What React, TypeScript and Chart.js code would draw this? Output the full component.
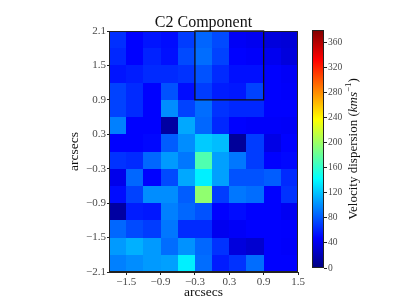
import React, { useEffect, useRef } from "react";
import { Chart, registerables } from "chart.js";

Chart.register(...registerables);

// ---- data ----
const xCenters = [-1.65, -1.35, -1.05, -0.75, -0.45, -0.15, 0.15, 0.45, 0.75, 1.05, 1.35];
const yCenters = [1.95, 1.65, 1.35, 1.05, 0.75, 0.45, 0.15, -0.15, -0.45, -0.75, -1.05, -1.35, -1.65, -1.95];
const cellSize = 0.3;

// velocity dispersion (km/s), rows from top (y=2.1) to bottom (y=-2.1)
const sigmaRows: number[][] = [
  [65, 48, 55, 52, 70, 85, 75, 44, 42, 35, 33],
  [62, 48, 60, 53, 75, 88, 72, 48, 46, 42, 35],
  [55, 58, 63, 63, 66, 78, 63, 53, 53, 48, 45],
  [72, 63, 48, 78, 52, 70, 58, 56, 72, 48, 46],
  [72, 63, 48, 100, 72, 88, 66, 62, 62, 48, 48],
  [95, 48, 48, 13, 110, 86, 62, 48, 46, 46, 45],
  [48, 48, 50, 82, 100, 123, 118, 10, 70, 38, 48],
  [66, 63, 86, 105, 92, 172, 107, 92, 70, 48, 50],
  [40, 86, 48, 75, 110, 137, 107, 78, 78, 82, 63],
  [52, 72, 100, 100, 82, 196, 70, 92, 88, 48, 66],
  [13, 58, 56, 95, 86, 78, 48, 52, 48, 48, 43],
  [86, 75, 70, 92, 63, 63, 42, 45, 48, 48, 47],
  [105, 113, 105, 88, 102, 86, 66, 35, 30, 48, 46],
  [95, 100, 105, 107, 137, 88, 58, 66, 88, 48, 48],
];

const titleText = "C2 Component";
const xTicks = [-1.5, -0.9, -0.3, 0.3, 0.9, 1.5];
const yTicks = [-2.1, -1.5, -0.9, -0.3, 0.3, 0.9, 1.5, 2.1];
const xRange = [-1.8, 1.5];
const yRange = [-2.1, 2.1];
const boxX = [-0.3, 0.9];
const boxY = [0.9, 2.1];
const cbRange = [0, 380];
const cbTicks = [0, 40, 80, 120, 160, 200, 240, 280, 320, 360];

const SERIF = "'Liberation Serif', 'DejaVu Serif', serif";
const TICK_COLOR = "#4a4a4a";

function jet(t: number): string {
  t = Math.max(0, Math.min(1, t));
  const c = (x: number) => Math.max(0, Math.min(1, x));
  const r = c(Math.min(4 * t - 1.5, -4 * t + 4.5));
  const g = c(Math.min(4 * t - 0.5, -4 * t + 3.5));
  const b = c(Math.min(4 * t + 0.5, -4 * t + 2.5));
  return `rgb(${Math.round(r * 255)},${Math.round(g * 255)},${Math.round(b * 255)})`;
}

const fmt = (v: number) => {
  const s = Math.abs(v).toFixed(1);
  return v < 0 ? "\u2212" + s : s;
};

const heatPlugin = {
  id: "heat",
  beforeDatasetsDraw(chart: any) {
    const { ctx, scales } = chart;
    const xs = scales.x;
    const ys = scales.y;
    ctx.save();
    sigmaRows.forEach((row, ri) => {
      row.forEach((v, ci) => {
        const cx = xCenters[ci];
        const cy = yCenters[ri];
        const x0 = Math.round(xs.getPixelForValue(cx - cellSize / 2));
        const x1 = Math.round(xs.getPixelForValue(cx + cellSize / 2));
        const y0 = Math.round(ys.getPixelForValue(cy + cellSize / 2));
        const y1 = Math.round(ys.getPixelForValue(cy - cellSize / 2));
        ctx.fillStyle = jet((v - cbRange[0]) / (cbRange[1] - cbRange[0]));
        ctx.fillRect(x0, y0, x1 - x0, y1 - y0);
      });
    });
    // outlined region
    const bx0 = xs.getPixelForValue(boxX[0]);
    const bx1 = xs.getPixelForValue(boxX[1]);
    const by0 = ys.getPixelForValue(boxY[1]);
    const by1 = ys.getPixelForValue(boxY[0]);
    ctx.strokeStyle = "#111";
    ctx.lineWidth = 1.3;
    ctx.strokeRect(bx0, by0, bx1 - bx0, by1 - by0);
    // frame
    const a = chart.chartArea;
    ctx.strokeStyle = "#222";
    ctx.lineWidth = 1;
    ctx.strokeRect(a.left + 0.5, a.top + 0.5, a.right - a.left - 1, a.bottom - a.top - 1);
    ctx.restore();
  },
  afterDraw(chart: any) {
    const { ctx, chartArea: a } = chart;
    ctx.save();
    ctx.font = `16px ${SERIF}`;
    ctx.fillStyle = "#111";
    ctx.textAlign = "center";
    ctx.textBaseline = "alphabetic";
    ctx.fillText(titleText, (a.left + a.right) / 2, 26.5);
    ctx.restore();
  },
};

const colorbarPlugin = {
  id: "cbar",
  beforeDatasetsDraw(chart: any) {
    const { ctx, chartArea: a, scales } = chart;
    const ys = scales.y;
    ctx.save();
    const top = ys.getPixelForValue(cbRange[1]);
    const bot = ys.getPixelForValue(cbRange[0]);
    const grad = ctx.createLinearGradient(0, bot, 0, top);
    for (let i = 0; i <= 64; i++) grad.addColorStop(i / 64, jet(i / 64));
    ctx.fillStyle = grad;
    ctx.fillRect(a.left, top, a.right - a.left, bot - top);
    ctx.strokeStyle = "#222";
    ctx.lineWidth = 1;
    ctx.strokeRect(a.left + 0.5, top + 0.5, a.right - a.left - 1, bot - top - 1);
    ctx.restore();
  },
  afterDraw(chart: any) {
    const { ctx, chartArea: a } = chart;
    ctx.save();
    const cx = 54;
    const cy = (a.top + a.bottom) / 2;
    ctx.translate(cx, cy);
    ctx.rotate(-Math.PI / 2);
    ctx.fillStyle = "#111";
    ctx.textBaseline = "middle";
    const f1 = `13px ${SERIF}`;
    const f2 = `italic 13px ${SERIF}`;
    const f3 = `9px ${SERIF}`;
    const parts: [string, string, number][] = [
      ["Velocity dispersion (", f1, 0],
      ["kms", f2, 0],
      ["\u22121", f3, -5],
      [")", f1, 0],
    ];
    let total = 0;
    parts.forEach(([t, f]) => {
      ctx.font = f;
      total += ctx.measureText(t).width;
    });
    let x = -total / 2;
    parts.forEach(([t, f, dy]) => {
      ctx.font = f;
      ctx.fillText(t, x, dy);
      x += ctx.measureText(t).width;
    });
    ctx.restore();
  },
};

export default function App() {
  const mainRef = useRef<HTMLCanvasElement>(null);
  const cbRef = useRef<HTMLCanvasElement>(null);

  useEffect(() => {
    const main = new Chart(mainRef.current!, {
      type: "scatter",
      data: {
        datasets: [
          {
            data: sigmaRows.flatMap((row, ri) => row.map((v, ci) => ({ x: xCenters[ci], y: yCenters[ri], v }))),
            pointRadius: 0,
          } as any,
        ],
      },
      options: {
        animation: false,
        responsive: false,
        events: [],
        layout: { padding: { left: 62, right: 101, top: 31, bottom: 0 } },
        plugins: {
          legend: { display: false },
          tooltip: { enabled: false },
          title: { display: false },
        },
        scales: {
          x: {
            type: "linear",
            min: xRange[0],
            max: xRange[1],
            afterBuildTicks: (s: any) => {
              s.ticks = xTicks.map((v) => ({ value: v }));
            },
            afterFit: (s: any) => {
              s.height = 27;
            },
            ticks: {
              color: TICK_COLOR,
              font: { family: SERIF, size: 11 },
              padding: 1,
              maxRotation: 0,
              autoSkip: false,
              callback: (v: any) => fmt(Number(v)),
            },
            grid: { drawOnChartArea: false, tickLength: 3, color: "#222" },
            border: { display: true, color: "#222" },
            title: {
              display: true,
              text: "arcsecs",
              color: "#111",
              font: { family: SERIF, size: 13.5, lineHeight: 0.9 },
              padding: { top: 0, bottom: 0 },
            },
          },
          y: {
            type: "linear",
            min: yRange[0],
            max: yRange[1],
            afterBuildTicks: (s: any) => {
              s.ticks = yTicks.map((v) => ({ value: v }));
            },
            afterFit: (s: any) => {
              s.width = 47;
            },
            ticks: {
              color: TICK_COLOR,
              font: { family: SERIF, size: 11 },
              padding: 1,
              autoSkip: false,
              callback: (v: any) => fmt(Number(v)),
            },
            grid: { drawOnChartArea: false, tickLength: 2, color: "#222" },
            border: { display: true, color: "#222" },
            title: {
              display: true,
              text: "arcsecs",
              color: "#111",
              font: { family: SERIF, size: 13.5, lineHeight: 1 },
              padding: { top: 6, bottom: 0 },
            },
          },
        },
      },
      plugins: [heatPlugin],
    });

    const cb = new Chart(cbRef.current!, {
      type: "scatter",
      data: { datasets: [{ data: [], pointRadius: 0 }] },
      options: {
        animation: false,
        responsive: false,
        events: [],
        layout: { padding: { left: 12, right: 51, top: 30, bottom: 31 } },
        plugins: { legend: { display: false }, tooltip: { enabled: false } },
        scales: {
          x: { type: "linear", display: false, min: 0, max: 1 },
          y: {
            type: "linear",
            position: "right",
            min: cbRange[0],
            max: cbRange[1],
            afterBuildTicks: (s: any) => {
              s.ticks = cbTicks.map((v) => ({ value: v }));
            },
            afterFit: (s: any) => {
              s.width = 24;
            },
            ticks: {
              color: TICK_COLOR,
              font: { family: SERIF, size: 9.5 },
              padding: 1,
              autoSkip: false,
            },
            grid: { drawOnChartArea: false, tickLength: 3, color: "#222" },
            border: { display: false },
          },
        },
      },
      plugins: [colorbarPlugin],
    });

    return () => {
      main.destroy();
      cb.destroy();
    };
  }, []);

  return (
    <div style={{ position: "fixed", left: 0, top: 0, width: 399, height: 299, background: "#fff" }}>
      <canvas ref={mainRef} width={399} height={299} style={{ position: "absolute", left: 0, top: 0 }} />
      <canvas ref={cbRef} width={99} height={299} style={{ position: "absolute", left: 300, top: 0 }} />
    </div>
  );
}
